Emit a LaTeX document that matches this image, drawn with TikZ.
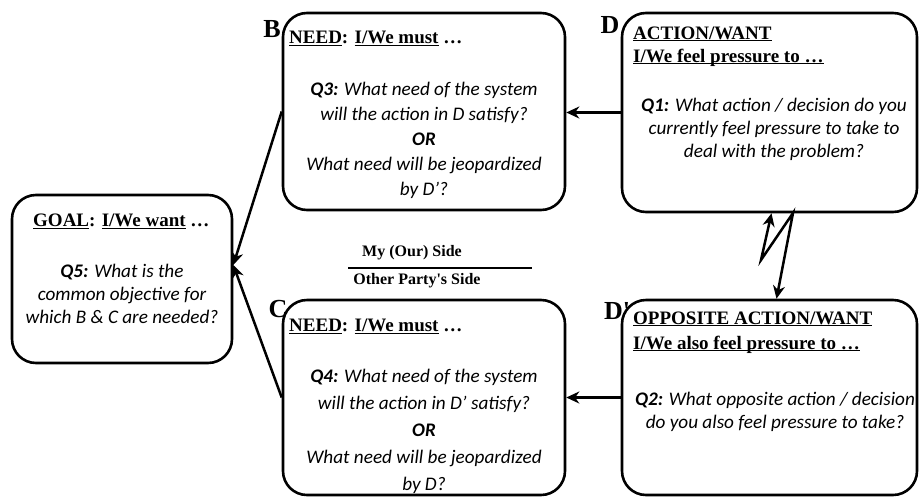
\documentclass[tikz,border=0pt]{standalone}
\usepackage{fontspec}
\setmainfont{Liberation Serif}
\newfontfamily\qfont{Carlito}
\newcommand{\uln}[1]{\underline{\smash{#1}}}
\usetikzlibrary{arrows.meta,positioning}
\tikzset{
  box/.style={draw=black, line width=2.6pt, rounded corners=24pt, inner sep=0pt},
  head/.style={font=\bfseries\fontsize{19}{23}\selectfont, inner sep=0pt, align=left, anchor=west},
  quest/.style={font=\qfont\itshape\fontsize{19.2}{23}\selectfont, inner sep=0pt, align=center},
  tag/.style={font=\bfseries\fontsize{26}{26}\selectfont, inner sep=0pt},
  side/.style={font=\bfseries\fontsize{16}{16}\selectfont, inner sep=0pt},
  link/.style={line width=2.5pt, -{Stealth[length=13pt,width=12pt]}},
  twoway/.style={line width=2.5pt, {Stealth[length=13pt,width=12pt]}-{Stealth[length=13pt,width=12pt]}}
}

\begin{document}
\begin{tikzpicture}[x=1pt,y=-1pt]
  \useasboundingbox (0,0) rectangle (920,498);
  % boxes
  \node[box, minimum width=220pt, minimum height=168pt] (goal)  at (122,279)   {};
  \node[box, minimum width=282pt, minimum height=197pt] (needB) at (424,111.5) {};
  \node[box, minimum width=295pt, minimum height=199pt] (act)   at (769.5,112.5) {};
  \node[box, minimum width=282pt, minimum height=195pt] (needC) at (424,397.5) {};
  \node[box, minimum width=295pt, minimum height=195pt] (opp)   at (769.5,397.5) {};
  % box texts
  \node[head] (goalhead) at (33,223) {\uln{GOAL}: \uln{I/We want} …};
  \node[quest] (goalq) at (122,294) {{\bfseries Q5:} What is the\\common objective for\\which B \& C are needed?};
  \node[head] (needBhead) at (289,40) {\uln{NEED}: \uln{I/We must} …};
  \node[quest] (needBq) at (424,140) {{\bfseries Q3:} What need of the system\\[2pt]will the action in D satisfy?\\[2pt]{\bfseries OR}\\[2pt]What need will be jeopardized\\[2pt]by D’?};
  \node[head] (acthead) at (633,51.5) {\uln{ACTION/WANT}\\\uln{I/We feel pressure to …}};
  \node[quest] (actq) at (774,129.5) {{\bfseries Q1:} What action / decision do you\\currently feel pressure to take to\\deal with the problem?};
  \node[head] (needChead) at (289,328) {\uln{NEED}: \uln{I/We must} …};
  \node[quest] (needCq) at (424,431) {{\bfseries Q4:} What need of the system\\[4pt]will the action in D’ satisfy?\\[4pt]{\bfseries OR}\\[4pt]What need will be jeopardized\\[4pt]by D?};
  \node[head] (opphead) at (633,337.5) {\uln{OPPOSITE ACTION/WANT}\\[2pt]\uln{I/We also feel pressure to …}};
  \node[quest] (oppq) at (775,411.5) {{\bfseries Q2:} What opposite action / decision\\do you also feel pressure to take?};
  % corner tags
  \node[tag] (tagB)  at (272,29)  {B};
  \node[tag] (tagD)  at (610,25)  {D};
  \node[tag] (tagC)  at (278,309) {C};
  \node[tag] (tagDp) at (617,311) {D\textquotesingle};
  % sides
  \node[side] (mine)  at (412,253) {My (Our) Side};
  \node[side] (other) at (417,281) {Other Party\textquotesingle s Side};
  \draw[line width=2.2pt] (348,268) -- (532,268);
  % arrows
  \coordinate (goaltip) at ([yshift=14pt]goal.east);
  \draw[link] (act.west) -- (act.west -| needB.east);
  \draw[link] (opp.west) -- (opp.west -| needC.east);
  \draw[link] (needB.west) -- (goaltip);
  \draw[link] (needC.west) -- (goaltip);
  \coordinate (zigL) at (761,260);
  \coordinate (zigR) at (793,213);
  \draw[twoway] ([xshift=2pt]act.south) -- (zigL) -- (zigR) -- ([xshift=7pt]opp.north);
\end{tikzpicture}
\end{document}
